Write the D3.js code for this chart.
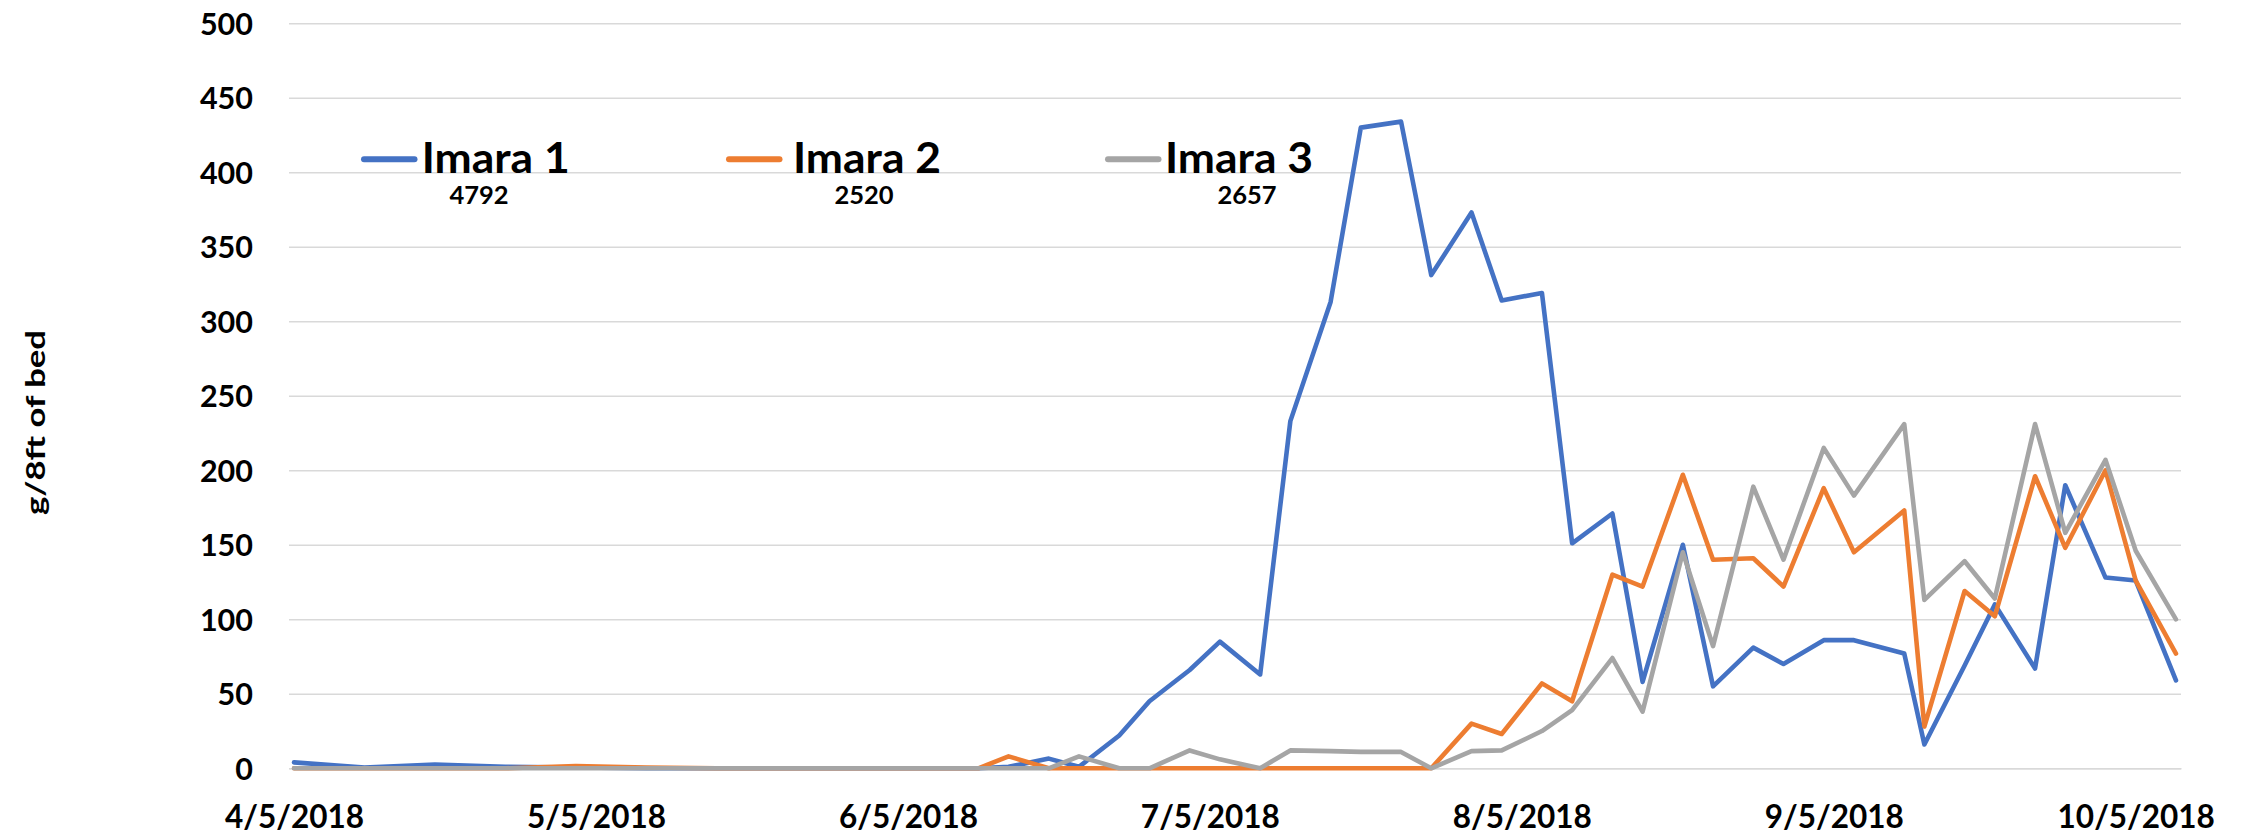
<!DOCTYPE html>
<html><head><meta charset="utf-8">
<script src="https://cdn.jsdelivr.net/npm/d3@7/dist/d3.min.js"></script>
<style>html,body{margin:0;padding:0;background:#fff;} svg{display:block;}</style>
</head><body><svg id="c" width="2246" height="836"></svg>
<script>
// ---- data ----
const dates = ["2018-04-05","2018-04-12","2018-04-19","2018-04-26","2018-05-03","2018-05-10","2018-05-17","2018-05-24","2018-05-31","2018-06-07",
  "2018-06-12","2018-06-15","2018-06-19","2018-06-22","2018-06-26","2018-06-29","2018-07-03","2018-07-06","2018-07-10","2018-07-13",
  "2018-07-17","2018-07-20","2018-07-24","2018-07-27","2018-07-31","2018-08-03","2018-08-07","2018-08-10","2018-08-14","2018-08-17",
  "2018-08-21","2018-08-24","2018-08-28","2018-08-31","2018-09-04","2018-09-07","2018-09-12","2018-09-14","2018-09-18","2018-09-21",
  "2018-09-25","2018-09-28","2018-10-02","2018-10-05","2018-10-09"];
const imara1 = [4,0.5,2.5,1,0.5,0,0,0,0,0, 0,1,6.5,1,22,45,66,85,63,233, 313,430,434,331,373,314,319,151,171,58, 150,55,81,70,86,86,77,16,69,110, 67,190,128,126,59];
const imara2 = [0,0,0,0,1.5,0.5,0,0,0,0, 0,8,0,0,0,0,0,0,0,0, 0,0,0,0,30,23,57,45,130,122, 197,140,141,122,188,145,173,28,119,102, 196,148,200,126,77];
const imara3 = [0,0,0,0,0,0,0,0,0,0, 0,0,0,8,0,0,12,6,0,12, 11.5,11,11,0,11.5,12,25,39,74,38, 145,82,189,140,215,183,231,113,139,114, 231,158,207,146,100];
const seriesNames = ["Imara 1","Imara 2","Imara 3"];
const seriesTotals = ["4792","2520","2657"];
const yTicks = [0,50,100,150,200,250,300,350,400,450,500];
const xTickLabels = ["4/5/2018","5/5/2018","6/5/2018","7/5/2018","8/5/2018","9/5/2018","10/5/2018"];
const yTitle = "g/8ft of bed";

// ---- layout / style ----
const colors = ["#4472C4","#ED7D31","#A5A5A5"];
const FONT = "Lato, 'Open Sans', sans-serif";
const plot = {left:289, right:2181, top:23.3, bottom:768.3};
const legendSampleX = [361, 726, 1105];
const legendTextX = [421.7, 793, 1165];
const legendTotalX = [479, 864, 1247];

const svg = d3.select("#c");
const parse = d3.utcParse("%Y-%m-%d");
const parseLbl = d3.utcParse("%m/%d/%Y");
const dt = dates.map(parse);
const day = 86400000;

const x = d3.scaleUtc()
  .domain([new Date(parse("2018-04-05").getTime() - day/2), new Date(parse("2018-10-09").getTime() + day/2)])
  .range([plot.left, plot.right]);
const y = d3.scaleLinear().domain([0,500]).range([plot.bottom, plot.top]);

// gridlines + y tick labels
const yAxis = d3.axisLeft(y).tickValues(yTicks).tickSize(-(plot.right-plot.left)).tickPadding(36).tickFormat(d3.format("d"));
const gy = svg.append("g").attr("transform",`translate(${plot.left},0)`).call(yAxis);
gy.select(".domain").remove();
gy.selectAll(".tick line").attr("stroke","#D9D9D9").attr("stroke-width",1.6);
gy.selectAll(".tick text").attr("font-family",FONT).attr("font-weight",700).attr("font-size",30.5).attr("fill","#000").attr("dy","0.36em");

// x axis labels
const xDates = xTickLabels.map(parseLbl);
const xAxis = d3.axisBottom(x).tickValues(xDates).tickSize(0).tickPadding(0)
  .tickFormat((d,i)=>xTickLabels[i]);
const gx = svg.append("g").attr("transform",`translate(0,${plot.bottom})`).call(xAxis);
gx.select(".domain").attr("stroke","#D9D9D9").attr("stroke-width",1.6);
gx.selectAll(".tick text").attr("font-family",FONT).attr("font-weight",700).attr("font-size",31.5).attr("fill","#000")
  .attr("dy",null).attr("y",60);

// lines
const series = [imara1, imara2, imara3];
const line = d3.line().x((d,i)=>x(dt[i])).y(d=>y(d));
series.forEach((s,k)=>{
  svg.append("path").datum(s).attr("d",line).attr("fill","none")
    .attr("stroke",colors[k]).attr("stroke-width",4.6).attr("stroke-linejoin","round").attr("stroke-linecap","round");
});

// legend
seriesNames.forEach((n,k)=>{
  const g = svg.append("g");
  g.append("line").attr("x1",legendSampleX[k]+3).attr("x2",legendSampleX[k]+53.5).attr("y1",159.3).attr("y2",159.3)
    .attr("stroke",colors[k]).attr("stroke-width",6).attr("stroke-linecap","round");
  g.append("text").attr("x",legendTextX[k]).attr("y",173.3).text(n)
    .attr("font-family",FONT).attr("font-weight",700).attr("font-size",42.5)
    .attr("textLength",148).attr("lengthAdjust","spacingAndGlyphs").attr("fill","#000");
  g.append("text").attr("x",legendTotalX[k]).attr("y",203.5).attr("text-anchor","middle").text(seriesTotals[k])
    .attr("font-family",FONT).attr("font-weight",700).attr("font-size",25.5).attr("fill","#000");
});

// y title
svg.append("text").attr("transform","translate(44.5,422.5) rotate(-90)").attr("text-anchor","middle")
  .attr("font-family",FONT).attr("font-weight",700).attr("font-size",27)
  .attr("textLength",185).attr("lengthAdjust","spacingAndGlyphs").attr("fill","#000").text(yTitle);
</script></body></html>
